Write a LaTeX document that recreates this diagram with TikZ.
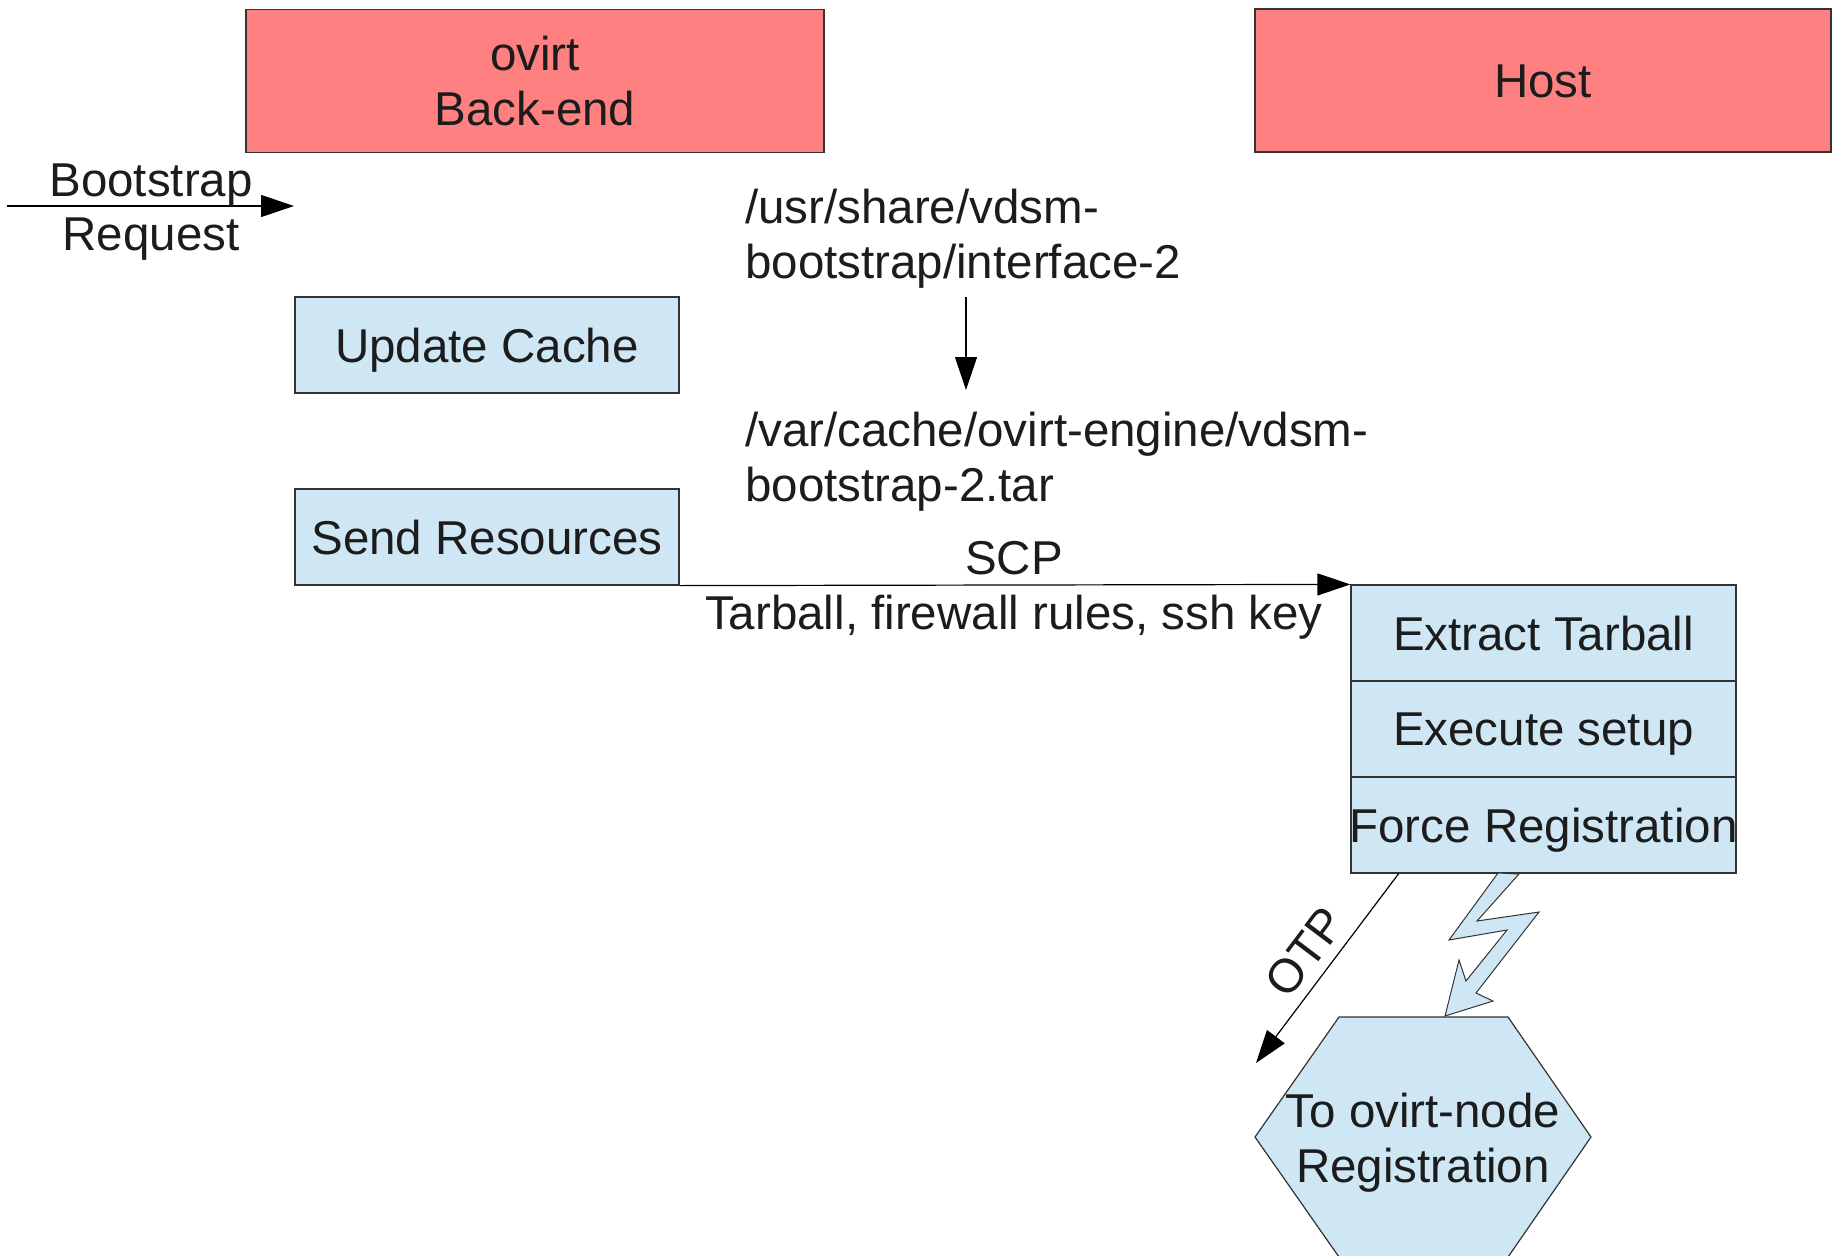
\documentclass[tikz,border=0pt]{standalone}
\usepackage{fontspec}
\setmainfont{Liberation Sans}
\usetikzlibrary{arrows.meta,calc}
\definecolor{redfill}{HTML}{FF8080}
\definecolor{bluefill}{HTML}{CFE7F5}
\definecolor{edgecol}{HTML}{333333}
\definecolor{txt}{HTML}{1C1C1C}
\begin{document}
\begin{tikzpicture}[x=1pt,y=-1pt,
  every node/.style={font=\fontsize{47.5}{54.6}\selectfont, text=txt, inner sep=0pt, text depth=0pt},
  redbox/.style={draw=edgecol, fill=redfill, line width=1.2pt, align=center},
  bluebox/.style={draw=edgecol, fill=bluefill, line width=1.2pt, align=center},
  conn/.style={draw=black, line width=1.2pt, -{Triangle[length=33pt,width=22pt]}},
  plainlbl/.style={align=center}]
\useasboundingbox (0,0) rectangle (1832,1256);

% header boxes
\node[redbox, minimum width=578pt, minimum height=143pt] (backend) at (535,81) {ovirt\\Back-end};
\node[redbox, minimum width=576pt, minimum height=143pt] (host) at (1543,80.5) {\raisebox{-2pt}{Host}};

% backend steps
\node[bluebox, minimum width=384pt, minimum height=96pt] (update) at (487,345) {Update Cache};
\node[bluebox, minimum width=384pt, minimum height=96pt] (send) at (487,537) {Send Resources};

% host steps
\node[bluebox, minimum width=385pt, minimum height=96pt] (extract) at (1543.5,633) {Extract Tarball};
\node[bluebox, minimum width=385pt, minimum height=96pt] (execute) at (1543.5,729) {Execute setup};
\node[bluebox, minimum width=385pt, minimum height=96pt] (force) at (1543.5,825) {\makebox[380pt]{Force Registration}};

% bootstrap request
\coordinate (bsstart) at (7,206);
\coordinate (bsend) at (294,206);
\draw[conn] (bsstart) -- (bsend);
\node[plainlbl] (bslbl) at (151,207) {Bootstrap\\Request};

% paths
\node[anchor=west, align=left] (srcpath) at (745,234) {/usr/share/vdsm-\\bootstrap/interface-2};
\node[anchor=west, align=left] (dstpath) at (745,457) {/var/cache/ovirt-engine/vdsm-\\bootstrap-2.tar};
\coordinate (cpstart) at (966,297);
\coordinate (cpend) at (966,390);
\draw[conn] (cpstart) -- (cpend);

% SCP
\draw[conn] (send.south east) -- (extract.north west);
\node (scplbl) at (1014,558) {SCP};
\node (tarlbl) at (1014,612) {Tarball, firewall rules, ssh key};

% hexagon
\coordinate (h1) at (1339,1017);
\coordinate (h2) at (1508,1017);
\coordinate (h3) at (1591,1137);
\coordinate (h4) at (1508,1257);
\coordinate (h5) at (1339,1257);
\coordinate (h6) at (1255,1137);
\draw[draw=edgecol, fill=bluefill, line width=1.2pt] (h1) -- (h2) -- (h3) -- (h4) -- (h5) -- (h6) -- cycle;
\node[plainlbl] (hexlbl) at (1423,1138) {To ovirt-node\\Registration};

% OTP
\coordinate (otpstart) at ($(force.south west)!0.125!(force.south east)$);
\coordinate (otpend) at (1256,1063);
\draw[conn] (otpstart) -- (otpend);
\node[rotate=53] (otplbl) at (1305,952) {OTP};

% lightning
\draw[draw=edgecol, fill=bluefill, line width=1pt, line join=miter]
  (1498,873) -- (1449,940) -- (1507,930) -- (1466,981) -- (1459,960) -- (1445,1016)
  -- (1493,1001) -- (1476,993) -- (1539,912) -- (1477,921) -- (1519,874) -- cycle;
\end{tikzpicture}
\end{document}
